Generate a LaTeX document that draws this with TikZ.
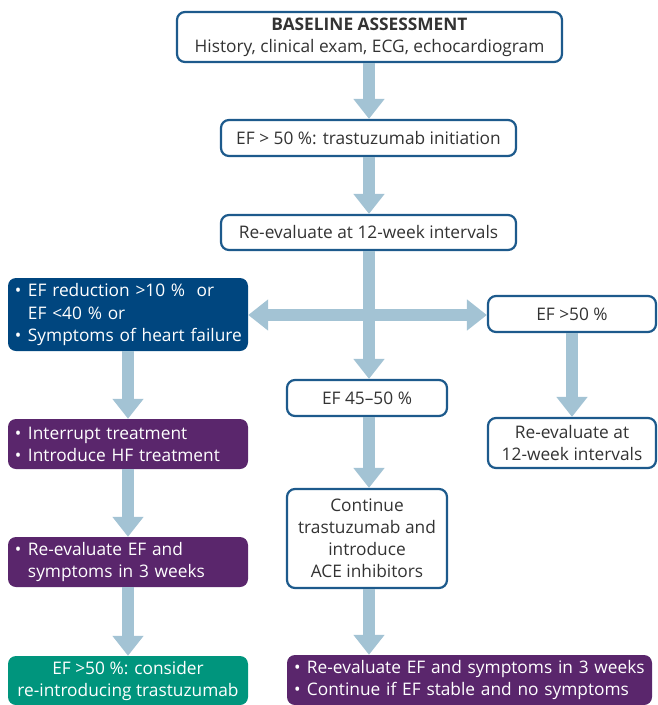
\documentclass[tikz,border=0pt]{standalone}
\usepackage{fontspec}
\setmainfont{Open Sans}
\usetikzlibrary{arrows.meta}
\definecolor{arrowc}{HTML}{A3C3D4}
\definecolor{bordc}{HTML}{1D5A8C}
\definecolor{darkblue}{HTML}{00467F}
\definecolor{purp}{HTML}{5A266C}
\definecolor{greenc}{HTML}{00957D}
\definecolor{txt}{HTML}{333333}
\newcommand{\bul}[1]{\mbox{\makebox[13pt][l]{•}#1}}
\newcommand{\ind}[1]{\mbox{\hspace*{13pt}#1}}
\tikzset{
  box/.style={draw=bordc, line width=2.2pt, fill=white, rounded corners=8pt, text=txt, inner sep=0pt, align=center, font=\fontsize{17.3pt}{22pt}\selectfont},
  fillbox/.style={rounded corners=8pt, text=white, inner ysep=0pt, inner xsep=7pt, font=\fontsize{17.3pt}{22pt}\selectfont},
  bluebox/.style={fillbox, fill=darkblue, align=left},
  purpbox/.style={fillbox, fill=purp, align=left},
  greenbox/.style={fillbox, fill=greenc, align=center},
  arr/.style={draw=arrowc, line width=12pt, -{Triangle[width=30pt,length=20pt]}},
}
\begin{document}
\begin{tikzpicture}[x=1pt,y=-1pt]
\useasboundingbox (0,0) rectangle (658,705);
% nodes
\node[box, minimum width=385pt, minimum height=50pt] (base) at (369.5,37) {\textbf{BASELINE ASSESSMENT}\\History, clinical exam, ECG, echocardiogram};
\node[box, minimum width=295pt, minimum height=36pt] (init) at (368.5,138) {EF > 50 \%: trastuzumab initiation};
\node[box, minimum width=295pt, minimum height=35pt] (reev) at (368.5,232.5) {Re-evaluate at 12-week intervals};
\node[bluebox, text width=226pt, minimum height=73pt] (red) at (128,314.5) {\bul{EF reduction >10 \%\ \ or}\\\ind{EF <40 \% or}\\\bul{Symptoms of heart failure}};
\node[box, minimum width=168pt, minimum height=36pt] (good) at (572,314) {EF >50 \%};
\node[box, minimum width=160pt, minimum height=36pt] (mid) at (367,398) {EF 45–50 \%};
\node[box, minimum width=168pt, minimum height=50pt] (reev2) at (572,443) {Re-evaluate at\\12-week intervals};
\node[purpbox, text width=226pt, minimum height=50pt] (intr) at (128,444) {\bul{Interrupt treatment}\\\bul{Introduce HF treatment}};
\node[box, minimum width=160pt, minimum height=99pt] (cont) at (367,538.5) {Continue\\trastuzumab and\\introduce\\ACE inhibitors};
\node[purpbox, text width=226pt, minimum height=50pt] (reev3) at (128,562) {\bul{Re-evaluate EF and}\\\ind{symptoms in 3 weeks}};
\node[greenbox, minimum width=240pt, minimum height=49pt] (green) at (128,680.5) {EF >50 \%: consider\\re-introducing trastuzumab};
\node[purpbox, text width=351pt, minimum height=50pt] (final) at (469.5,680) {\bul{Re-evaluate EF and symptoms in 3 weeks}\\\bul{Continue if EF stable and no symptoms}};
% connectors
\coordinate (cross) at (369,315);
\draw[arr] (base.south -| 369,0) -- (369,0 |- init.north);
\draw[arr] (init.south -| 369,0) -- (369,0 |- reev.north);
\draw[arr] (reev.south -| 369,0) -- (369,0 |- mid.north);
\draw[arr] (cross) -- (cross -| red.east);
\draw[arr] (cross) -- (cross -| good.west);
\draw[arr] (good.south) -- (good.south |- reev2.north);
\draw[arr] (red.south) -- (red.south |- intr.north);
\draw[arr] (intr.south) -- (intr.south |- reev3.north);
\draw[arr] (reev3.south) -- (reev3.south |- green.north);
\draw[arr] (mid.south -| 369,0) -- (369,0 |- cont.north);
\draw[arr] (cont.south -| 369,0) -- (369,0 |- final.north);
\end{tikzpicture}
\end{document}
